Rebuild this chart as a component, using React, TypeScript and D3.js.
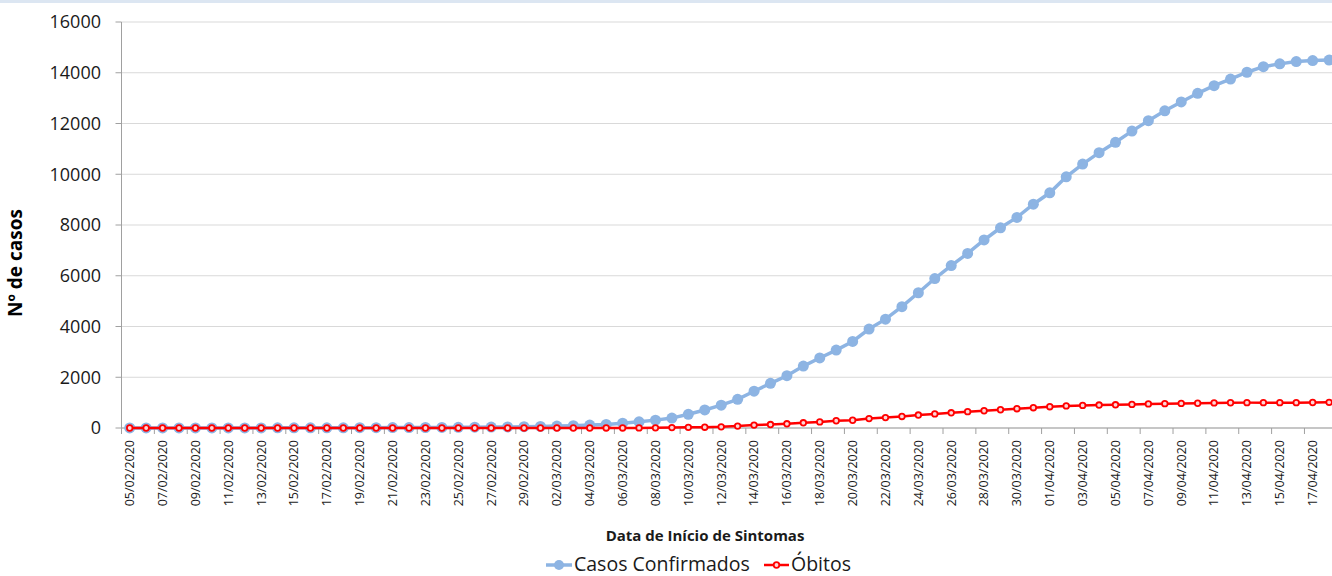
import React from 'react';
import * as d3 from 'd3';

// categories: one per day, 05/02/2020 .. 18/04/2020
const dates = d3.timeDay.range(new Date(2020, 1, 5), new Date(2020, 3, 19));
const fmt = d3.timeFormat('%d/%m/%Y');
const categories = dates.map(d => fmt(d));

const casosConfirmados = [
  1, 1, 2, 2, 2, 3, 3, 4, 4, 5,
  6, 7, 8, 9, 11, 13, 15, 17, 20, 23,
  27, 31, 36, 42, 50, 60, 75, 90, 115, 140,
  190, 245, 310, 390, 540, 710, 900, 1130, 1450, 1760,
  2060, 2440, 2760, 3070, 3410, 3900, 4290, 4780, 5330, 5890,
  6400, 6880, 7410, 7890, 8300, 8820, 9270, 9900, 10400, 10850,
  11260, 11700, 12110, 12500, 12850, 13190, 13490, 13750, 14020, 14240,
  14350, 14440, 14480, 14500,
];

const obitos = [
  0, 0, 0, 0, 0, 0, 0, 0, 0, 0,
  0, 0, 0, 0, 0, 0, 0, 0, 0, 0,
  0, 0, 0, 0, 0, 0, 0, 0, 0, 1,
  2, 3, 5, 15, 25, 32, 45, 75, 115, 135,
  165, 205, 240, 285, 305, 370, 410, 455, 510, 555,
  600, 645, 680, 720, 760, 800, 840, 870, 890, 905,
  915, 930, 950, 960, 970, 975, 990, 995, 1000, 1000,
  1000, 1000, 1005, 1010,
];

const yTicks = [0, 2000, 4000, 6000, 8000, 10000, 12000, 14000, 16000];

const W = 1332;
const H = 576;
const left = 121.5;
const step = 16.43;
const top = 22;
const bottom = 428;

const BLUE = '#8db4e3';
const RED = '#ff0000';
const FONT = '"Open Sans", "DejaVu Sans", sans-serif';

export default function App() {
  const x = d3.scaleBand<string>()
    .domain(categories)
    .range([left, left + categories.length * step])
    .padding(0);
  const y = d3.scaleLinear().domain([0, 16000]).range([bottom, top]);
  const cx = (c: string) => (x(c) as number) + x.bandwidth() / 2;

  const line = d3.line<number>()
    .x((_, i) => cx(categories[i]))
    .y(d => y(d));

  const tickIdx = categories.map((_, i) => i).filter(i => i % 2 === 0);

  return (
    <svg width={W} height={H} style={{ position: 'absolute', left: 0, top: 0, overflow: 'hidden', background: '#fff' }}>
      <rect x={0} y={0} width={W} height={3} fill="#dce6f2" />

      {/* gridlines */}
      {yTicks.map(t => (
        <line key={'g' + t} x1={left} x2={W} y1={y(t)} y2={y(t)} stroke="#d9d9d9" strokeWidth={1} />
      ))}

      {/* y axis */}
      <line x1={left} x2={left} y1={top} y2={bottom} stroke="#a0a0a0" />
      {yTicks.map(t => (
        <g key={'y' + t}>
          <line x1={left - 6} x2={left} y1={y(t)} y2={y(t)} stroke="#a0a0a0" />
          <text x={101} y={y(t)} dy="0.35em" textAnchor="end" fontFamily={FONT} fontSize={18} fill="#1a1a1a">{t}</text>
        </g>
      ))}

      {/* x axis */}
      <line x1={left} x2={W} y1={bottom} y2={bottom} stroke="#a0a0a0" />
      {tickIdx.map(i => (
        <line key={'xt' + i} x1={x(categories[i]) as number} x2={x(categories[i]) as number} y1={bottom} y2={bottom + 6} stroke="#a0a0a0" />
      ))}
      {tickIdx.map(i => (
        <text key={'xl' + i} transform={`translate(${cx(categories[i])},440) rotate(-90)`} dy="0.35em" textAnchor="end" fontFamily={FONT} fontSize={12.5} fill="#1a1a1a">
          {categories[i]}
        </text>
      ))}

      {/* series */}
      <path d={line(casosConfirmados) || ''} fill="none" stroke={BLUE} strokeWidth={3.5} />
      {casosConfirmados.map((v, i) => (
        <circle key={'b' + i} cx={cx(categories[i])} cy={y(v)} r={5.5} fill={BLUE} />
      ))}
      <path d={line(obitos) || ''} fill="none" stroke={RED} strokeWidth={2.5} />
      {obitos.map((v, i) => (
        <circle key={'r' + i} cx={cx(categories[i])} cy={y(v)} r={2.8} fill="#ffd6d6" stroke={RED} strokeWidth={1.8} />
      ))}

      {/* titles */}
      <text transform="translate(22,263) rotate(-90)" textAnchor="middle" fontFamily={FONT} fontSize={19} fontWeight="bold" fill="#000">Nº de casos</text>
      <text x={705} y={541} textAnchor="middle" fontFamily={FONT} fontSize={15} fontWeight="bold" fill="#1a1a1a">Data de Início de Sintomas</text>

      {/* legend */}
      <line x1={546} x2={572} y1={565} y2={565} stroke={BLUE} strokeWidth={3.5} />
      <circle cx={559} cy={565} r={5} fill={BLUE} />
      <text x={574} y={570.5} fontFamily={FONT} fontSize={19.5} fill="#1a1a1a">Casos Confirmados</text>
      <line x1={764} x2={789} y1={565} y2={565} stroke={RED} strokeWidth={2.5} />
      <circle cx={776.5} cy={565} r={2.8} fill="#ffd6d6" stroke={RED} strokeWidth={1.8} />
      <text x={791} y={570.5} fontFamily={FONT} fontSize={19.5} fill="#1a1a1a">Óbitos</text>
    </svg>
  );
}
